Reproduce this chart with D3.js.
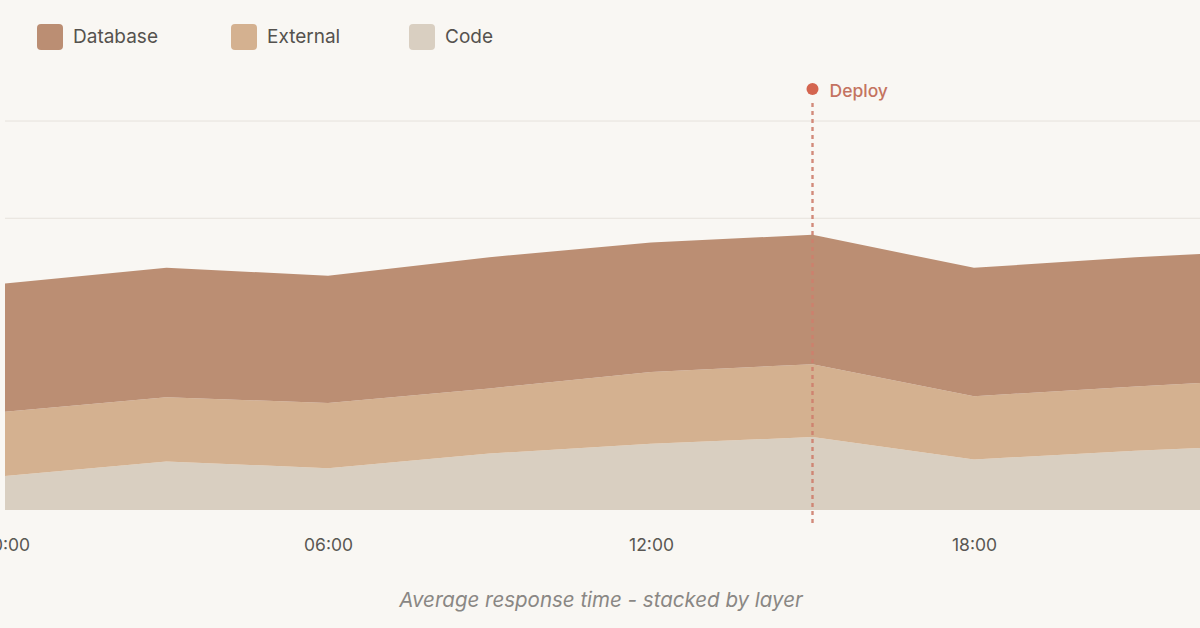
<!DOCTYPE html>
<html>
<head>
<meta charset="utf-8">
<script src="https://cdn.jsdelivr.net/npm/d3@7"></script>
<style>
  html, body { margin: 0; padding: 0; background: #f9f7f3; }
  svg { display: block; font-family: "Inter", "Helvetica Neue", Arial, sans-serif; }
</style>
</head>
<body>
<svg id="chart" width="1200" height="628"></svg>
<script>
// ---- data ----
const hours    = [0, 3, 6, 9, 12, 15, 18, 21, 24];
const code     = [35, 50, 43, 58, 68, 75, 52, 61, 68];
const external = [66, 66, 67, 67, 74, 75, 65, 66, 68];
const database = [132, 133, 131, 135, 133, 133, 132, 133, 132];
const seriesNames = ["Code", "External", "Database"];
const legendNames = ["Database", "External", "Code"];
const tickHours = [0, 6, 12, 18];
const tickLabels = ["00:00", "06:00", "12:00", "18:00"];
const gridValues = [0, 100, 200, 300, 400];
const deployHour = 15;
const deployLabel = "Deploy";
const caption = "Average response time - stacked by layer";

const colors = { Database: "#bb8e73", External: "#d4b190", Code: "#d9cfc1" };

const rows = hours.map((h, i) => ({ hour: h, Code: code[i], External: external[i], Database: database[i] }));

const svg = d3.select("#chart");
const x = d3.scaleLinear().domain([0, 24]).range([5, 1297]);
const y = d3.scaleLinear().domain([0, 400]).range([510, 121]);

// gridlines
svg.append("g").selectAll("line").data(gridValues.slice(1)).join("line")
  .attr("x1", 5).attr("x2", 1200)
  .attr("y1", d => y(d)).attr("y2", d => y(d))
  .attr("stroke", "#e6e2dc").attr("stroke-width", 1);

// stacked areas
const stack = d3.stack().keys(seriesNames);
const layers = stack(rows);
const area = d3.area()
  .x(d => x(d.data.hour))
  .y0(d => y(d[0]))
  .y1(d => y(d[1]))
  .curve(d3.curveLinear);

svg.append("g").selectAll("path").data(layers).join("path")
  .attr("d", area)
  .attr("fill", d => colors[d.key]);

// x axis labels
const xAxis = d3.axisBottom(x).tickValues(tickHours)
  .tickFormat((d, i) => tickLabels[i]).tickSize(0).tickPadding(0);
const gx = svg.append("g").attr("transform", "translate(0,551)").call(xAxis);
gx.select(".domain").remove();
gx.selectAll("text")
  .attr("font-family", "Inter, Arial, sans-serif")
  .attr("font-size", 17.5).attr("fill", "#5a5753").attr("dy", 0)
  .attr("y", 0);

// deploy marker
const dx = x(deployHour);
svg.append("line")
  .attr("x1", dx).attr("x2", dx).attr("y1", 103).attr("y2", 526)
  .attr("stroke", "#cf7f6d").attr("stroke-width", 2.4)
  .attr("stroke-dasharray", "4,4").attr("opacity", 0.9);
svg.append("circle").attr("cx", dx).attr("cy", 89).attr("r", 6).attr("fill", "#d4654f");
svg.append("text").attr("x", dx + 17).attr("y", 97)
  .attr("font-size", 17.5).attr("font-weight", 500).attr("fill", "#c47360")
  .text(deployLabel);

// legend
const legendX = [37, 231, 409];
const lg = svg.append("g").selectAll("g").data(legendNames).join("g")
  .attr("transform", (d, i) => `translate(${legendX[i]},24)`);
lg.append("rect").attr("width", 26).attr("height", 26).attr("rx", 4)
  .attr("fill", d => colors[d]);
lg.append("text").attr("x", 36).attr("y", 18.5)
  .attr("font-size", 19).attr("fill", "#55524e").text(d => d);

// caption
svg.append("text").attr("x", 601).attr("y", 607).attr("text-anchor", "middle")
  .attr("font-size", 20.5).attr("font-style", "italic").attr("fill", "#8a8784")
  .text(caption);
</script>
</body>
</html>
